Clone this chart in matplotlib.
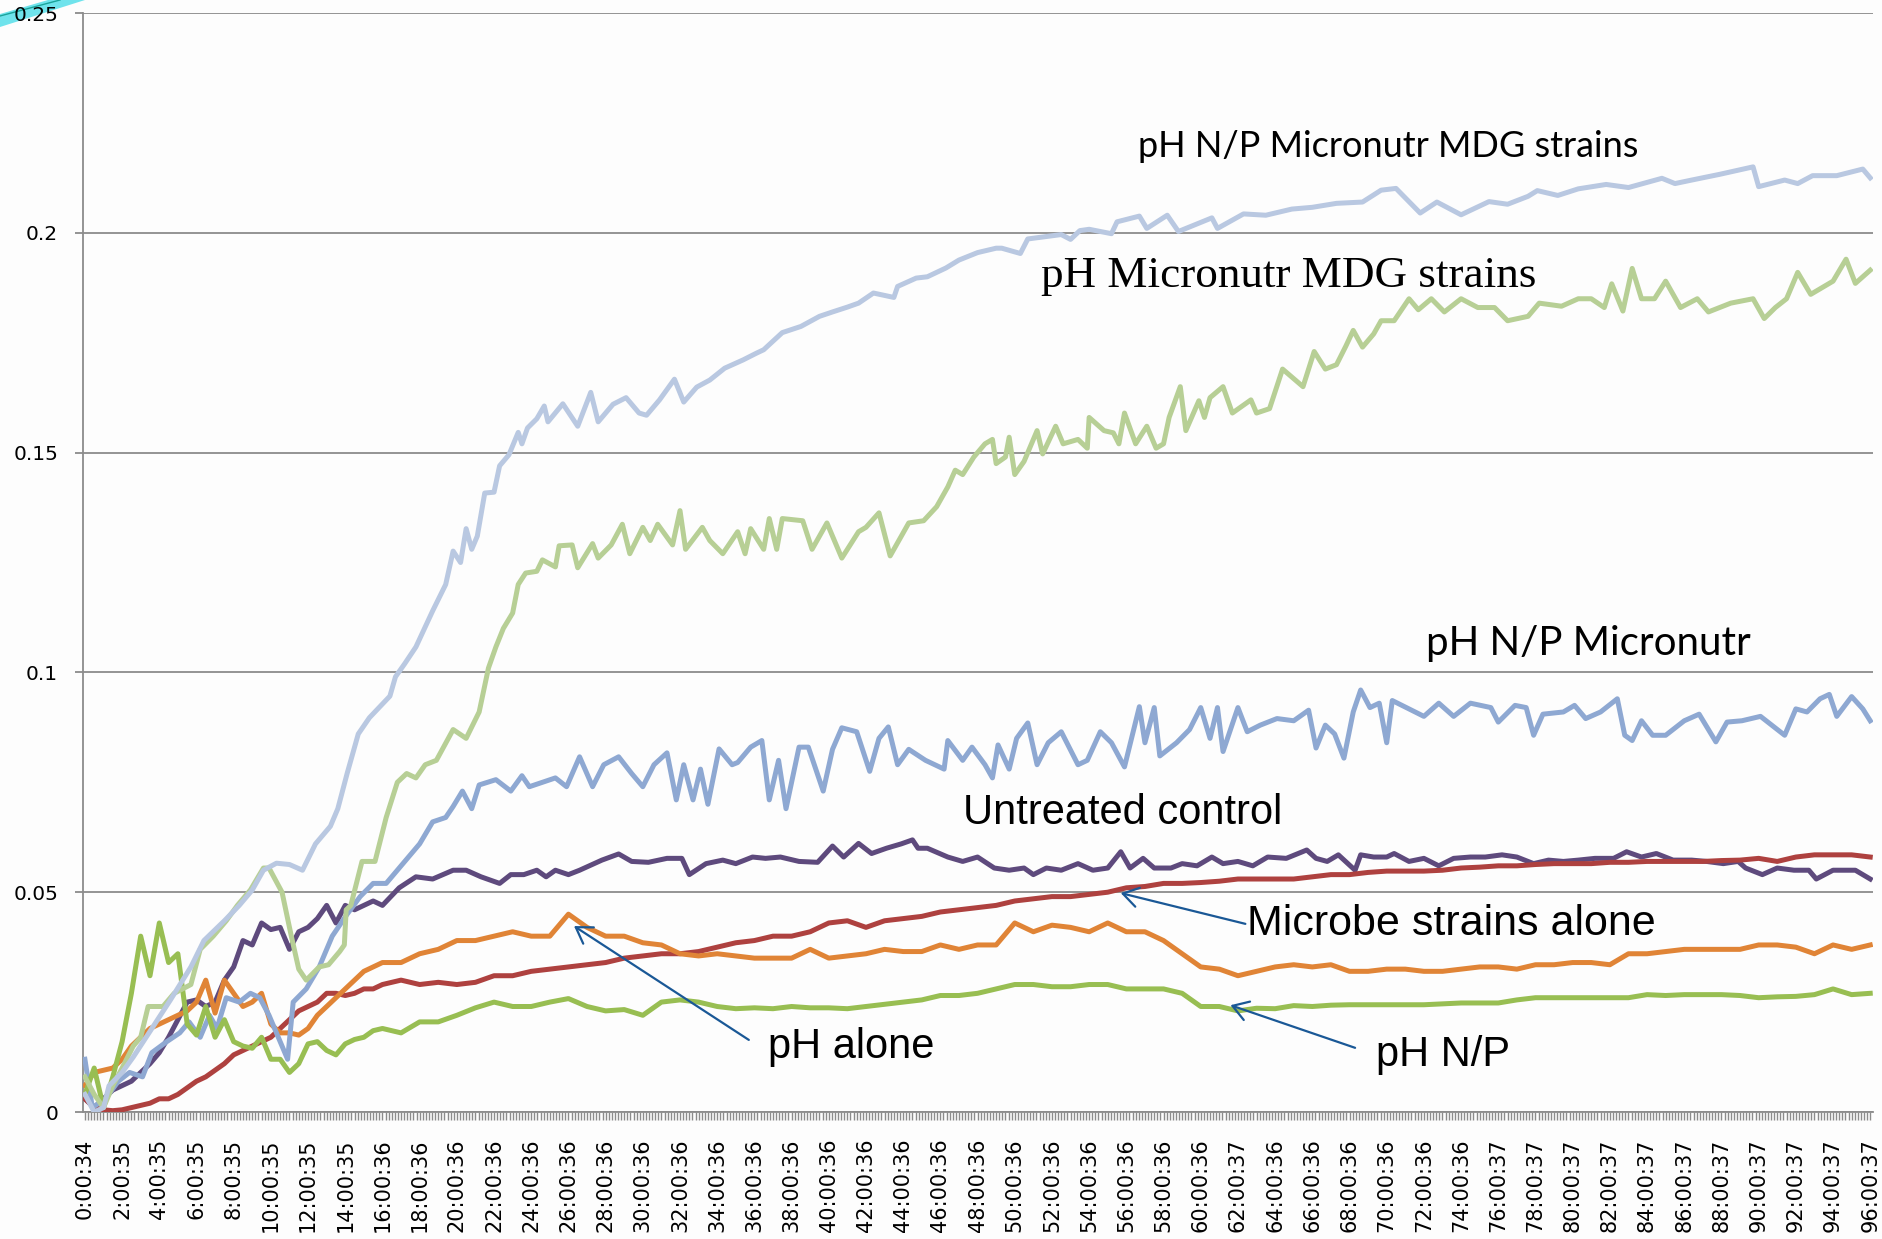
import numpy as np
import matplotlib.pyplot as plt
from matplotlib.patches import Polygon

# smoother series: every half hour for the first 16 h, then once an hour
hours = np.concatenate([np.arange(0, 16.5, 0.5), np.arange(17, 97)])

# noisy series: (hour, value) pairs
mdg_np_t = [0, 0.5, 1.0, 1.3, 2.0, 2.6, 3.6, 4.6, 5.7, 6.4, 7.5, 8.3, 9.0, 9.6, 10.3, 11.0, 11.7, 12.4, 13.2, 13.6,
            14.1, 14.7, 15.3, 16.4, 16.7, 17.2, 17.8, 18.7, 19.4, 19.8, 20.2, 20.5, 20.8, 21.1, 21.5, 22.0, 22.3, 22.8,
            23.3, 23.5, 23.8, 24.3, 24.7, 24.9, 25.7, 26.5, 27.2, 27.6, 28.4, 29.1, 29.8, 30.2, 30.9, 31.7, 32.2, 32.9,
            33.6, 34.4, 35.4, 36.1, 36.5, 37.5, 38.5, 39.5, 40.2, 41.0, 41.6, 42.4, 43.5, 43.7, 44.7, 45.3, 46.3, 47.0,
            48.0, 49.0, 49.3, 50.3, 50.7, 52.5, 53.0, 53.5, 54.0, 55.2, 55.5, 56.7, 57.1, 58.2, 58.8, 60.6, 60.9, 62.3,
            63.5, 64.9, 66.0, 67.3, 68.7, 69.7, 70.5, 71.8, 72.7, 74.0, 75.5, 76.5, 77.6, 78.1, 79.2, 80.3, 81.8, 83.0,
            84.8, 85.5, 86.4, 87.9, 89.7, 90.0, 91.4, 92.1, 92.9, 94.2, 95.6, 96.0]
mdg_np = [0.004, 0.000, 0.001, 0.006, 0.009, 0.0125, 0.019, 0.0255, 0.033, 0.039, 0.0435, 0.047, 0.0505, 0.055, 0.0566,
          0.0563, 0.055, 0.061, 0.065, 0.069, 0.077, 0.086, 0.0897, 0.0946, 0.099, 0.102, 0.1058, 0.114, 0.120, 0.1276,
          0.125, 0.1327, 0.128, 0.131, 0.1408, 0.141, 0.147, 0.1495, 0.1546, 0.152, 0.1556, 0.1577, 0.1606, 0.157,
          0.1611, 0.156, 0.1637, 0.157, 0.161, 0.1625, 0.159, 0.1585, 0.162, 0.1667, 0.1615, 0.1649, 0.1665, 0.1692,
          0.1711, 0.1726, 0.1734, 0.1773, 0.1787, 0.181, 0.182, 0.1831, 0.184, 0.1863, 0.1853, 0.1878, 0.1897, 0.190,
          0.192, 0.1938, 0.1955, 0.1965, 0.1965, 0.1953, 0.1986, 0.1996, 0.1985, 0.2005, 0.2008, 0.1998, 0.2025, 0.2038,
          0.201, 0.204, 0.2003, 0.2034, 0.201, 0.2043, 0.204, 0.2054, 0.2058, 0.2067, 0.207, 0.2097, 0.2101, 0.2045,
          0.207, 0.2041, 0.2071, 0.2065, 0.2083, 0.2096, 0.2085, 0.210, 0.211, 0.2103, 0.2124, 0.2112, 0.212, 0.2133,
          0.215, 0.2105, 0.212, 0.2112, 0.213, 0.213, 0.2145, 0.2125]

mdg_t = [0, 0.5, 1.0, 1.5, 2.0, 2.6, 3.0, 3.4, 4.2, 4.8, 5.7, 6.2, 6.9, 7.6, 8.2, 8.9, 9.6, 9.9, 10.6, 11.1, 11.5,
         11.9, 12.6, 13.1, 13.7, 13.95, 14.05, 14.3, 14.9, 15.6, 16.2, 16.8, 17.3, 17.8, 18.3, 18.9, 19.8, 20.5, 21.2,
         21.7, 22.1, 22.5, 23.0, 23.3, 23.7, 24.3, 24.6, 25.3, 25.5, 26.2, 26.5, 27.3, 27.6, 28.3, 28.9, 29.3, 30.0,
         30.4, 30.8, 31.6, 32.0, 32.3, 33.2, 33.6, 34.3, 35.1, 35.5, 35.8, 36.5, 36.8, 37.2, 37.5, 38.6, 39.1, 39.9,
         40.7, 41.6, 42.0, 42.7, 43.3, 44.3, 45.1, 45.8, 46.4, 46.8, 47.2, 47.8, 48.4, 48.8, 49.0, 49.5, 49.7, 50.0,
         50.5, 51.2, 51.5, 52.2, 52.6, 53.4, 53.9, 54.0, 54.8, 55.3, 55.6, 55.9, 56.5, 57.1, 57.6, 58.0, 58.3, 58.9,
         59.2, 59.9, 60.2, 60.5, 61.2, 61.7, 62.7, 63.0, 63.7, 64.4, 65.5, 66.1, 66.7, 67.3, 67.8, 68.2, 68.7, 69.3,
         69.7, 70.4, 71.2, 71.7, 72.4, 73.1, 74.0, 74.9, 75.8, 76.5, 77.6, 78.2, 79.4, 80.3, 81.0, 81.7, 82.1, 82.7,
         83.2, 83.7, 84.4, 85.0, 85.8, 86.7, 87.3, 88.5, 89.7, 90.3, 90.9, 91.5, 92.1, 92.8, 93.4, 94.0, 94.7, 95.2,
         96.0]
mdg = [0.008, 0.004, 0.001, 0.006, 0.010, 0.015, 0.017, 0.024, 0.024, 0.027, 0.029, 0.037, 0.040, 0.0435, 0.047,
       0.0505, 0.0555, 0.0555, 0.050, 0.040, 0.0325, 0.030, 0.033, 0.0335, 0.0365, 0.038, 0.046, 0.047, 0.057, 0.057,
       0.067, 0.075, 0.077, 0.076, 0.079, 0.080, 0.087, 0.085, 0.091, 0.101, 0.1058, 0.110, 0.1135, 0.120, 0.1226,
       0.123, 0.1256, 0.124, 0.1288, 0.129, 0.1238, 0.1293, 0.126, 0.129, 0.1337, 0.127, 0.133, 0.130, 0.1337, 0.129,
       0.1368, 0.128, 0.133, 0.130, 0.127, 0.132, 0.127, 0.1327, 0.128, 0.135, 0.128, 0.135, 0.1345, 0.128, 0.134,
       0.126, 0.132, 0.133, 0.1363, 0.1265, 0.134, 0.1345, 0.1377, 0.1422, 0.146, 0.145, 0.149, 0.152, 0.153, 0.1475,
       0.149, 0.1535, 0.145, 0.148, 0.155, 0.1497, 0.156, 0.152, 0.153, 0.151, 0.158, 0.155, 0.1545, 0.152, 0.159,
       0.152, 0.156, 0.151, 0.152, 0.158, 0.165, 0.155, 0.1618, 0.158, 0.1625, 0.165, 0.159, 0.162, 0.159, 0.160,
       0.169, 0.165, 0.173, 0.169, 0.170, 0.1742, 0.1778, 0.174, 0.177, 0.180, 0.180, 0.185, 0.1825, 0.185, 0.182,
       0.185, 0.183, 0.183, 0.180, 0.181, 0.184, 0.1833, 0.185, 0.185, 0.183, 0.1884, 0.1822, 0.1919, 0.185, 0.185,
       0.189, 0.183, 0.185, 0.182, 0.184, 0.185, 0.1805, 0.183, 0.185, 0.191, 0.186, 0.1875, 0.189, 0.194, 0.1885,
       0.1915]

np_micro_t = [0, 0.4, 1.1, 1.8, 2.4, 3.1, 3.6, 4.4, 5.1, 5.6, 6.2, 6.7, 7.1, 7.6, 8.3, 8.9, 9.4, 9.9, 10.3, 10.9,
              11.2, 11.9, 12.6, 13.3, 14.1, 14.8, 15.5, 16.2, 16.9, 18.0, 18.7, 19.4, 19.8, 20.3, 20.8, 21.2, 22.1,
              22.9, 23.5, 23.9, 24.6, 25.3, 25.9, 26.6, 27.3, 27.9, 28.7, 29.4, 30.0, 30.6, 31.3, 31.8, 32.2, 32.7,
              33.1, 33.5, 34.1, 34.8, 35.1, 35.8, 36.4, 36.8, 37.3, 37.7, 38.4, 38.9, 39.7, 40.2, 40.7, 41.5, 42.2,
              42.7, 43.2, 43.7, 44.3, 45.2, 46.2, 46.4, 47.2, 47.7, 48.4, 48.8, 49.1, 49.7, 50.1, 50.7, 51.2, 51.8,
              52.5, 53.4, 53.9, 54.6, 55.2, 55.9, 56.7, 57.0, 57.5, 57.8, 58.7, 59.4, 60.0, 60.5, 60.9, 61.2, 62.0,
              62.5, 63.2, 64.1, 65.0, 65.8, 66.2, 66.7, 67.2, 67.7, 68.2, 68.6, 69.1, 69.6, 70.0, 70.3, 71.2, 72.0,
              72.8, 73.6, 74.5, 75.6, 76.0, 76.9, 77.5, 77.9, 78.4, 79.5, 80.1, 80.7, 81.5, 82.4, 82.8, 83.2, 83.7,
              84.3, 85.0, 86.0, 86.8, 87.7, 88.3, 89.1, 90.1, 90.8, 91.4, 92.0, 92.6, 93.3, 93.8, 94.2, 95.0, 95.6,
              96.0]
np_micro = [0.012, 0.001, 0.003, 0.007, 0.009, 0.008, 0.0135, 0.016, 0.018, 0.0205, 0.017, 0.022, 0.019, 0.026,
            0.025, 0.027, 0.026, 0.022, 0.018, 0.012, 0.025, 0.028, 0.033, 0.040, 0.045, 0.049, 0.052, 0.052, 0.0555,
            0.061, 0.066, 0.067, 0.0695, 0.073, 0.069, 0.0744, 0.0756, 0.073, 0.0765, 0.074, 0.075, 0.076, 0.074,
            0.0808, 0.074, 0.079, 0.0808, 0.077, 0.074, 0.079, 0.0817, 0.071, 0.079, 0.071, 0.078, 0.070, 0.0826,
            0.079, 0.0795, 0.083, 0.0845, 0.071, 0.080, 0.069, 0.083, 0.083, 0.073, 0.0825, 0.0874, 0.0865, 0.0775,
            0.085, 0.0876, 0.079, 0.0825, 0.080, 0.078, 0.0845, 0.080, 0.083, 0.079, 0.076, 0.0835, 0.078, 0.085,
            0.0885, 0.079, 0.084, 0.0865, 0.079, 0.080, 0.0865, 0.084, 0.0785, 0.0922, 0.084, 0.092, 0.081, 0.084,
            0.087, 0.092, 0.085, 0.092, 0.082, 0.092, 0.0865, 0.088, 0.0895, 0.089, 0.0914, 0.0828, 0.088, 0.086,
            0.0805, 0.091, 0.096, 0.092, 0.093, 0.084, 0.0936, 0.0917, 0.090, 0.093, 0.090, 0.093, 0.092, 0.0887,
            0.0925, 0.092, 0.0857, 0.0905, 0.091, 0.0925, 0.0895, 0.091, 0.094, 0.0857, 0.0845, 0.089, 0.0857,
            0.0857, 0.089, 0.0905, 0.0842, 0.0887, 0.089, 0.090, 0.0877, 0.0857, 0.0917, 0.091, 0.094, 0.095, 0.090,
            0.0945, 0.0917, 0.089]

control_t = [0, 0.5, 1.0, 1.5, 2.0, 2.5, 3.0, 3.5, 4.0, 4.5, 5.0, 5.5, 6.0, 6.5, 7.0, 7.5, 8.0, 8.5, 9.0, 9.5, 10.0,
             10.5, 11.0, 11.5, 12.0, 12.5, 13.0, 13.5, 14.0, 14.5, 15.0, 15.5, 16.0, 16.9, 17.8, 18.7, 19.8, 20.5,
             21.3, 22.3, 22.9, 23.6, 24.3, 24.8, 25.3, 26.0, 26.6, 27.8, 28.7, 29.4, 30.3, 31.3, 32.1, 32.5, 33.4,
             34.3, 35.0, 35.9, 36.6, 37.4, 38.4, 39.4, 40.2, 40.8, 41.6, 42.3, 43.1, 43.9, 44.5, 44.8, 45.3, 46.4,
             47.2, 48.0, 48.9, 49.7, 50.5, 51.0, 51.7, 52.5, 53.4, 54.2, 55.0, 55.7, 56.2, 56.9, 57.5, 58.4, 59.0,
             59.8, 60.6, 61.2, 62.0, 62.8, 63.6, 64.6, 65.7, 66.2, 66.8, 67.4, 68.3, 68.6, 69.3, 70.0, 70.4, 71.2,
             72.0, 72.8, 73.6, 74.5, 75.3, 76.2, 77.0, 77.9, 78.7, 79.5, 80.3, 81.2, 82.2, 82.9, 83.7, 84.5, 85.4,
             86.4, 87.2, 88.1, 88.9, 89.3, 90.2, 91.0, 91.9, 92.7, 93.1, 94.0, 95.2, 96.0]
control = [0.003, 0.001, 0.003, 0.005, 0.006, 0.007, 0.009, 0.011, 0.0135, 0.017, 0.021, 0.025, 0.0255, 0.024, 0.025,
           0.030, 0.033, 0.039, 0.038, 0.043, 0.0415, 0.042, 0.037, 0.041, 0.042, 0.044, 0.047, 0.043, 0.047, 0.046,
           0.047, 0.048, 0.047, 0.051, 0.0535, 0.053, 0.055, 0.055, 0.0535, 0.052, 0.054, 0.054, 0.055, 0.0535,
           0.055, 0.054, 0.055, 0.0573, 0.0587, 0.057, 0.0568, 0.0577, 0.0577, 0.054, 0.0565, 0.0573, 0.0565, 0.058,
           0.0577, 0.058, 0.057, 0.0568, 0.0605, 0.058, 0.0611, 0.0588, 0.060, 0.061, 0.0619, 0.060, 0.060, 0.058,
           0.057, 0.058, 0.0555, 0.055, 0.0555, 0.054, 0.0555, 0.055, 0.0565, 0.055, 0.0555, 0.0592, 0.0555, 0.0577,
           0.0555, 0.0555, 0.0565, 0.056, 0.058, 0.0565, 0.057, 0.056, 0.058, 0.0577, 0.0596, 0.0577, 0.057, 0.0585,
           0.055, 0.0585, 0.058, 0.058, 0.0588, 0.057, 0.0577, 0.056, 0.0577, 0.058, 0.058, 0.0585, 0.058, 0.0565,
           0.0573, 0.057, 0.0573, 0.0577, 0.0577, 0.0592, 0.058, 0.0588, 0.0573, 0.0573, 0.057, 0.0565, 0.057,
           0.0555, 0.054, 0.0555, 0.055, 0.055, 0.053, 0.055, 0.055, 0.053]

microbe = [0.003, 0.001, 0.0005, 0.0003, 0.0005, 0.001, 0.0015, 0.002, 0.003, 0.003, 0.004, 0.0055, 0.007, 0.008, 0.0095, 0.011, 0.013,
           0.014, 0.015, 0.016, 0.017, 0.019, 0.021, 0.023, 0.024, 0.025, 0.027, 0.027, 0.0265, 0.027, 0.028, 0.028, 0.029,
           0.030, 0.029, 0.0295, 0.029, 0.0295, 0.031, 0.031, 0.032, 0.0325, 0.033,
           0.0335, 0.034, 0.035, 0.0355, 0.036, 0.036, 0.0365, 0.0375, 0.0385, 0.039,
           0.040, 0.040, 0.041, 0.043, 0.0435, 0.042, 0.0435, 0.044, 0.0445, 0.0455,
           0.046, 0.0465, 0.047, 0.048, 0.0485, 0.049, 0.049, 0.0495, 0.050, 0.051,
           0.0513, 0.052, 0.052, 0.0522, 0.0525, 0.053, 0.053, 0.053, 0.053, 0.0535,
           0.054, 0.054, 0.0545, 0.0548, 0.0548, 0.0548, 0.055, 0.0555, 0.0557, 0.056,
           0.056, 0.0563, 0.0565, 0.0565, 0.0565, 0.0568, 0.0568, 0.057, 0.057, 0.057,
           0.057, 0.0572, 0.0573, 0.0577, 0.057, 0.058, 0.0585, 0.0585, 0.0585, 0.058]

ph_alone = [0.006, 0.009, 0.0095, 0.010, 0.012, 0.015, 0.017, 0.019, 0.020, 0.021, 0.022, 0.023, 0.025, 0.030, 0.0225, 0.030, 0.027,
            0.024, 0.025, 0.027, 0.020, 0.018, 0.018, 0.0175, 0.019, 0.022, 0.024, 0.026, 0.028, 0.030, 0.032, 0.033, 0.034,
            0.034, 0.036, 0.037, 0.039, 0.039, 0.040, 0.041, 0.040, 0.040, 0.045,
            0.042, 0.040, 0.040, 0.0385, 0.038, 0.036, 0.0355, 0.036, 0.0355, 0.035,
            0.035, 0.035, 0.037, 0.035, 0.0355, 0.036, 0.037, 0.0365, 0.0365, 0.038,
            0.037, 0.038, 0.038, 0.043, 0.041, 0.0425, 0.042, 0.041, 0.043, 0.041,
            0.041, 0.039, 0.036, 0.033, 0.0325, 0.031, 0.032, 0.033, 0.0335, 0.033,
            0.0335, 0.032, 0.032, 0.0325, 0.0325, 0.032, 0.032, 0.0325, 0.033, 0.033,
            0.0325, 0.0335, 0.0335, 0.034, 0.034, 0.0335, 0.036, 0.036, 0.0365, 0.037,
            0.037, 0.037, 0.037, 0.038, 0.038, 0.0375, 0.036, 0.038, 0.037, 0.038]

ph_np = [0.004, 0.010, 0.001, 0.008, 0.016, 0.027, 0.040, 0.031, 0.043, 0.034, 0.036, 0.020, 0.0175, 0.024, 0.017, 0.021, 0.016,
         0.015, 0.0145, 0.017, 0.012, 0.012, 0.009, 0.011, 0.0155, 0.016, 0.014, 0.013, 0.0155, 0.0165, 0.017, 0.0185, 0.019,
         0.018, 0.0205, 0.0205, 0.022, 0.0237, 0.025, 0.024, 0.024, 0.025, 0.0258,
         0.024, 0.023, 0.0233, 0.022, 0.025, 0.0255, 0.025, 0.024, 0.0235, 0.0237,
         0.0235, 0.024, 0.0237, 0.0237, 0.0235, 0.024, 0.0245, 0.025, 0.0255, 0.0265,
         0.0265, 0.027, 0.028, 0.029, 0.029, 0.0285, 0.0285, 0.029, 0.029, 0.028,
         0.028, 0.028, 0.027, 0.024, 0.024, 0.023, 0.0236, 0.0235, 0.0242, 0.024,
         0.0243, 0.0244, 0.0244, 0.0244, 0.0244, 0.0244, 0.0246, 0.0248, 0.0248, 0.0248,
         0.0255, 0.026, 0.026, 0.026, 0.026, 0.026, 0.026, 0.0267, 0.0265, 0.0267,
         0.0267, 0.0267, 0.0265, 0.026, 0.0262, 0.0263, 0.0267, 0.028, 0.0267, 0.027]

tick_hours = list(range(0, 97, 2))
tick_labels = ['0:00:34', '2:00:35', '4:00:35', '6:00:35', '8:00:35', '10:00:35', '12:00:35',
               '14:00:35', '16:00:36', '18:00:36', '20:00:36', '22:00:36', '24:00:36', '26:00:36',
               '28:00:36', '30:00:36', '32:00:36', '34:00:36', '36:00:36', '38:00:36', '40:00:36',
               '42:00:36', '44:00:36', '46:00:36', '48:00:36', '50:00:36', '52:00:36', '54:00:36',
               '56:00:36', '58:00:36', '60:00:36', '62:00:37', '64:00:36', '66:00:36', '68:00:36',
               '70:00:36', '72:00:36', '74:00:36', '76:00:37', '78:00:37', '80:00:37', '82:00:37',
               '84:00:37', '86:00:37', '88:00:37', '90:00:37', '92:00:37', '94:00:37', '96:00:37']
y_ticks = [0, 0.05, 0.1, 0.15, 0.2, 0.25]
y_labels = ['0', '0.05', '0.1', '0.15', '0.2', '0.25']

grey = '#8c8c8c'
arrow_col = '#1a5896'

fig = plt.figure(figsize=(18.83, 12.39), dpi=100, facecolor='#fdfdfd')
ax = fig.add_axes([0.0441, 0.1025, 0.9506, 0.8870])
ax.set_facecolor('#fdfdfd')

# drawn bottom first
lines = [(control_t, control, '#5e4a7d'), (hours, microbe, '#ae413f'), (hours, ph_alone, '#e08436'),
         (np_micro_t, np_micro, '#8ea8d2'), (hours, ph_np, '#98be52'), (mdg_t, mdg, '#b7cf95'),
         (mdg_np_t, mdg_np, '#b9c8e1')]
for t, vals, col in lines:
    ax.plot(t, vals, color=col, lw=3.6, solid_joinstyle='round', zorder=3)

ax.set_xlim(-0.1, 96.15)
ax.set_ylim(0, 0.25)
ax.set_yticks(y_ticks)
ax.set_yticklabels(y_labels)
ax.yaxis.grid(True, color=grey, lw=1.3)
ax.set_axisbelow(True)
for s in ['top', 'right']:
    ax.spines[s].set_visible(False)
for s in ['left', 'bottom']:
    ax.spines[s].set_color(grey)
    ax.spines[s].set_linewidth(1.3)

ax.set_xticks(tick_hours)
ax.set_xticklabels(tick_labels, rotation=90)
ax.set_xticks(np.arange(0, 96.01, 1 / 6), minor=True)
ax.tick_params(axis='x', which='both', direction='out', length=6, width=1, color=grey,
               pad=13, labelsize=15)
ax.tick_params(axis='y', direction='out', length=6, width=1.3, color=grey, pad=12, labelsize=14.5)

# series labels
ax.text(56.6, 0.2172, 'pH N/P Micronutr MDG strains', fontsize=26, family='Lato', ha='left', va='baseline')
ax.text(51.4, 0.1877, 'pH Micronutr MDG strains', fontsize=32.5, family='Liberation Serif', ha='left', va='baseline')
ax.text(72.1, 0.1040, 'pH N/P Micronutr', fontsize=29, family='Lato', ha='left', va='baseline')
ax.text(47.2, 0.0655, 'Untreated control', fontsize=30, family='Liberation Sans', ha='left', va='baseline')
ax.text(62.5, 0.0403, 'Microbe strains alone', fontsize=31, family='Liberation Sans', ha='left', va='baseline')
ax.text(36.75, 0.0123, 'pH alone', fontsize=30, family='Liberation Sans', ha='left', va='baseline')
ax.text(69.4, 0.0105, 'pH N/P', fontsize=30, family='Liberation Sans', ha='left', va='baseline')

arrows = [((26.3, 0.0423), (35.7, 0.0164)),
          ((55.7, 0.0498), (62.4, 0.0428)),
          ((61.6, 0.0243), (68.3, 0.0146))]
for head, tail in arrows:
    ax.annotate('', xy=head, xytext=tail,
                arrowprops=dict(arrowstyle='->,head_length=0.55,head_width=0.35',
                                mutation_scale=20, color=arrow_col, lw=1.6,
                                shrinkA=0, shrinkB=0), zorder=5)

# little cyan corner decoration of the slide, kept under the tick labels
W, H = 1883.0, 1239.0
corner = [(0, 14), (0, 27), (85, 0), (48, 0)]
fig.patches.append(Polygon([(x / W, 1 - y / H) for x, y in corner], closed=True, zorder=-2,
                           transform=fig.transFigure, facecolor='#6fe3ec', edgecolor='none'))
fig.lines.append(plt.Line2D([0, 60 / W], [1 - 16 / H, 1], transform=fig.transFigure,
                            color='#1aa39a', lw=1, zorder=-1))

plt.savefig('out.png', dpi=100, facecolor=fig.get_facecolor())
